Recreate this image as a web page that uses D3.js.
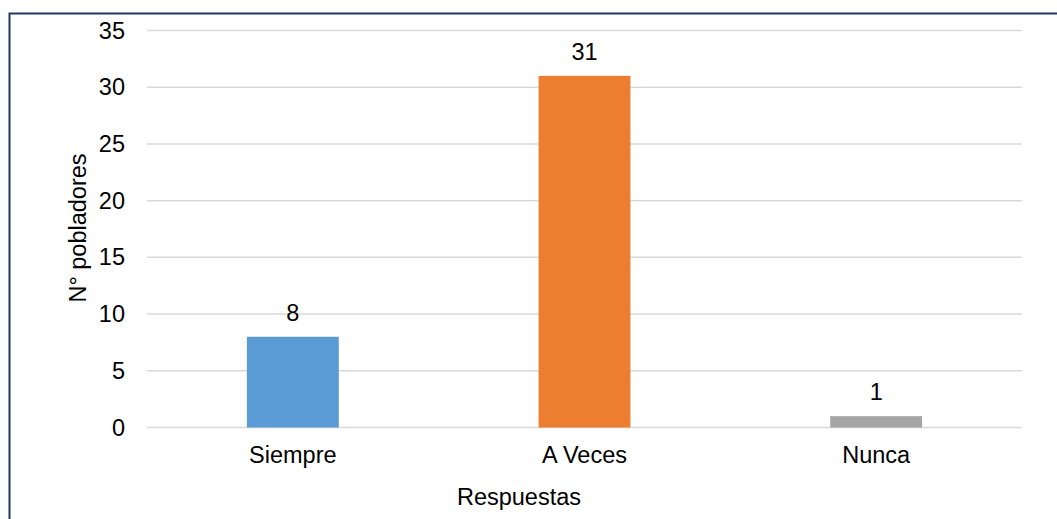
<!DOCTYPE html>
<html>
<head>
<meta charset="utf-8">
<script src="https://cdn.jsdelivr.net/npm/d3@7"></script>
<style>
  html, body { margin: 0; padding: 0; background: #fff; }
  svg { display: block; }
  text { font-family: "Liberation Sans", Arial, sans-serif; fill: #000; }
</style>
</head>
<body>
<svg id="chart" width="1057" height="519"></svg>
<script>
const categories = ["Siempre", "A Veces", "Nunca"];
const values = [8, 31, 1];
const colors = ["#5B9BD5", "#ED7D31", "#A5A5A5"];
const yTicks = [0, 5, 10, 15, 20, 25, 30, 35];

const FS = 23.5;
const svg = d3.select("#chart");
const W = 1057, H = 519;
const plot = { left: 147, right: 1022, top: 30.5, bottom: 427.5 };

// outer frame
svg.append("rect")
  .attr("x", 9.5).attr("y", 13.5)
  .attr("width", W + 20).attr("height", H + 20)
  .attr("fill", "none")
  .attr("stroke", "#1F3864")
  .attr("stroke-width", 2);

const x = d3.scaleBand()
  .domain(categories)
  .range([plot.left, plot.right])
  .paddingInner(0.685)
  .paddingOuter(0.3425);

const y = d3.scaleLinear()
  .domain([0, 35])
  .range([plot.bottom, plot.top]);

// gridlines
svg.append("g")
  .selectAll("line")
  .data(yTicks)
  .join("line")
  .attr("x1", plot.left).attr("x2", plot.right)
  .attr("y1", d => y(d)).attr("y2", d => y(d))
  .attr("stroke", "#D9D9D9")
  .attr("stroke-width", 1.5);

// y axis labels
const yAxis = d3.axisLeft(y).tickValues(yTicks).tickSize(0).tickPadding(22);
svg.append("g")
  .attr("transform", `translate(${plot.left},0)`)
  .call(yAxis)
  .call(g => g.select(".domain").remove())
  .call(g => g.selectAll("text")
    .attr("font-size", FS)
    .attr("font-family", "Liberation Sans, Arial, sans-serif")
    .attr("fill", "#000"));

// bars
svg.append("g")
  .selectAll("rect")
  .data(values)
  .join("rect")
  .attr("x", (d, i) => x(categories[i]))
  .attr("width", x.bandwidth())
  .attr("y", d => y(d))
  .attr("height", d => y(0) - y(d))
  .attr("fill", (d, i) => colors[i]);

// value labels
svg.append("g")
  .selectAll("text")
  .data(values)
  .join("text")
  .attr("x", (d, i) => x(categories[i]) + x.bandwidth() / 2)
  .attr("y", d => y(d) - 16)
  .attr("text-anchor", "middle")
  .attr("font-size", FS)
  .text(d => d);

// category labels
const xAxis = d3.axisBottom(x).tickSize(0).tickPadding(19);
svg.append("g")
  .attr("transform", `translate(0,${plot.bottom})`)
  .call(xAxis)
  .call(g => g.select(".domain").remove())
  .call(g => g.selectAll("text")
    .attr("font-size", FS)
    .attr("font-family", "Liberation Sans, Arial, sans-serif")
    .attr("fill", "#000"));

// axis titles
svg.append("text")
  .attr("x", 519).attr("y", 505)
  .attr("text-anchor", "middle")
  .attr("font-size", FS)
  .text("Respuestas");

svg.append("text")
  .attr("transform", "translate(85.5,228) rotate(-90)")
  .attr("text-anchor", "middle")
  .attr("font-size", FS)
  .text("N° pobladores");
</script>
</body>
</html>
